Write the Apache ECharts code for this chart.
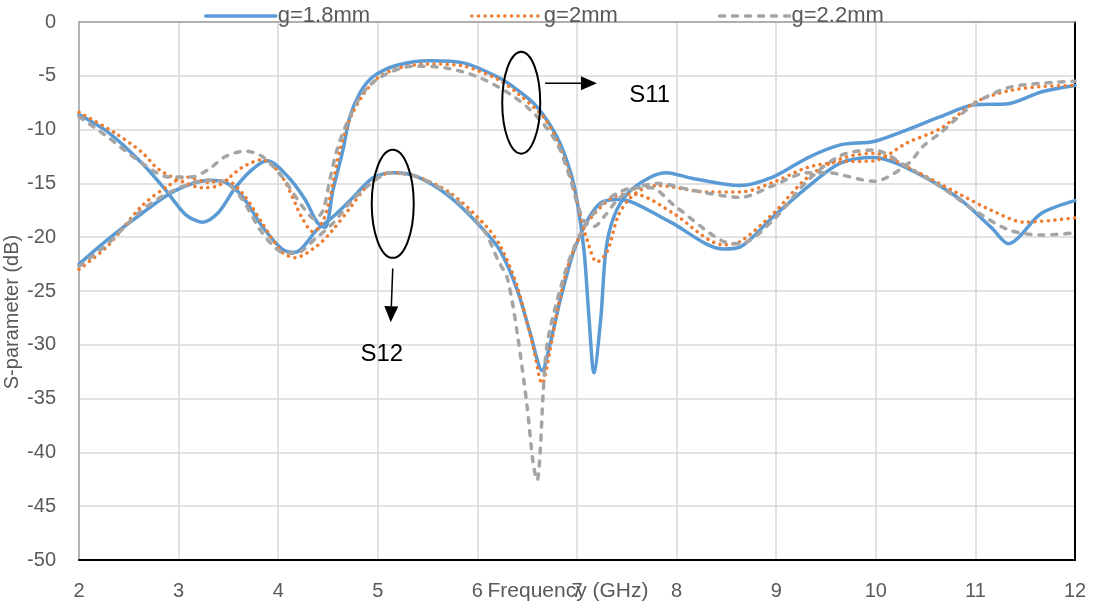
<!DOCTYPE html>
<html>
<head>
<meta charset="utf-8">
<script src="https://cdn.jsdelivr.net/npm/echarts@6/dist/echarts.min.js"></script>
<style>
    html, body { margin: 0; padding: 0; background: #fff; }
    #chart { width: 1097px; height: 608px; }
</style>
</head>
<body>
<div id="chart"></div>
<script>
// Series names (legend)
const gapNames = ['g=1.8mm', 'g=2mm', 'g=2.2mm'];

// S11 curves, [GHz, dB]
const s11G18 = [[2, -8.6], [2.3, -10.3], [2.63, -13.1], [2.86, -15.5], [3.07, -17.9], [3.24, -18.6], [3.4, -17.7], [3.57, -15.4], [3.74, -13.7], [3.89, -12.9], [4.1, -14.4], [4.27, -16.5], [4.39, -18.6], [4.47, -19.1], [4.55, -15.6], [4.65, -11.9], [4.72, -8.8], [4.82, -6.6], [4.95, -5.1], [5.2, -4.0], [5.53, -3.6], [5.86, -3.8], [6.2, -5.1], [6.4, -6.3], [6.6, -7.9], [6.8, -10.7], [6.93, -13.8], [7.0, -16.6], [7.07, -21.2], [7.12, -27.4], [7.17, -32.6], [7.24, -27.4], [7.29, -21.2], [7.37, -18.1], [7.51, -15.9], [7.74, -14.4], [7.9, -14.0], [8.14, -14.5], [8.64, -15.2], [8.97, -14.4], [9.32, -12.6], [9.65, -11.4], [9.98, -11.1], [10.32, -10.0], [10.65, -8.8], [10.99, -7.7], [11.33, -7.6], [11.66, -6.5], [12, -5.9]];
const s11G20 = [[2, -8.4], [2.36, -10.3], [2.63, -12.1], [2.8, -13.7], [3.03, -14.8], [3.24, -15.4], [3.4, -15.2], [3.64, -13.5], [3.84, -12.8], [4.04, -14.4], [4.24, -18.2], [4.35, -19.5], [4.45, -18.5], [4.52, -16.3], [4.62, -11.9], [4.72, -9.0], [4.85, -6.8], [5.0, -5.2], [5.2, -4.3], [5.5, -3.9], [5.86, -4.1], [6.2, -5.3], [6.4, -6.6], [6.66, -8.8], [6.8, -11.0], [6.93, -14.2], [7.02, -17.5], [7.1, -20.2], [7.2, -22.3], [7.3, -21.4], [7.41, -18.1], [7.51, -16.6], [7.64, -15.6], [7.81, -15.2], [8.31, -15.8], [8.64, -15.8], [8.97, -14.9], [9.32, -13.5], [9.65, -13.0], [9.98, -12.9], [10.32, -11.2], [10.65, -9.9], [10.99, -7.5], [11.33, -6.4], [11.66, -6.0], [12, -5.9]];
const s11G22 = [[2, -8.8], [2.29, -10.7], [2.63, -13.1], [2.9, -14.4], [3.13, -14.4], [3.3, -13.7], [3.47, -12.5], [3.67, -12.0], [3.84, -12.5], [4.04, -14.4], [4.24, -17.1], [4.37, -18.3], [4.45, -17.5], [4.52, -14.6], [4.59, -11.9], [4.69, -9.4], [4.85, -6.6], [5.03, -5.1], [5.36, -4.1], [5.7, -4.3], [6.03, -5.2], [6.36, -6.9], [6.6, -8.8], [6.8, -11.3], [6.93, -14.5], [7.0, -16.8], [7.08, -18.6], [7.17, -19.0], [7.28, -18.0], [7.41, -16.5], [7.57, -15.5], [7.81, -15.0], [8.14, -15.6], [8.64, -16.3], [8.97, -15.2], [9.32, -14.0], [9.5, -14.0], [9.98, -14.8], [10.32, -13.2], [10.48, -11.5], [10.65, -10.3], [10.99, -7.6], [11.33, -6.1], [11.66, -5.7], [12, -5.5]];

// S12 curves, [GHz, dB]
const s12G18 = [[2, -22.5], [2.29, -20.2], [2.63, -17.8], [2.96, -15.7], [3.3, -14.7], [3.47, -14.9], [3.64, -16.2], [3.84, -19.0], [4.04, -21.1], [4.17, -21.4], [4.39, -19.3], [4.55, -18.1], [4.72, -16.6], [4.95, -14.5], [5.16, -14.0], [5.4, -14.4], [5.73, -16.3], [6.06, -19.3], [6.23, -21.3], [6.4, -24.9], [6.53, -28.9], [6.65, -32.4], [6.73, -29.9], [6.83, -25.9], [6.97, -21.2], [7.1, -18.5], [7.24, -16.8], [7.41, -16.5], [7.57, -16.8], [7.94, -18.6], [8.47, -21.1], [8.64, -20.9], [8.97, -18.1], [9.32, -15.3], [9.65, -13.1], [9.98, -12.6], [10.32, -13.6], [10.82, -16.3], [11.16, -19.1], [11.33, -20.6], [11.66, -17.8], [12, -16.6]];
const s12G20 = [[2, -23.0], [2.29, -20.8], [2.63, -17.1], [2.9, -15.2], [3.07, -14.4], [3.3, -14.9], [3.47, -14.7], [3.64, -15.9], [3.84, -18.7], [4.04, -21.4], [4.17, -21.9], [4.39, -20.8], [4.55, -19.3], [4.72, -17.3], [4.89, -15.3], [5.13, -14.0], [5.4, -14.4], [5.73, -15.9], [6.06, -18.7], [6.23, -20.8], [6.4, -24.6], [6.56, -30.2], [6.65, -33.6], [6.73, -30.5], [6.81, -26.5], [6.93, -22.1], [7.1, -18.7], [7.34, -16.4], [7.5, -16.0], [7.64, -16.1], [7.97, -17.8], [8.47, -20.7], [8.64, -20.4], [8.97, -17.8], [9.32, -14.4], [9.65, -12.7], [9.98, -12.2], [10.32, -13.5], [10.82, -15.9], [11.16, -17.5], [11.49, -18.6], [12, -18.2]];
const s12G22 = [[2, -22.7], [2.29, -20.6], [2.63, -17.5], [2.96, -15.6], [3.3, -14.7], [3.47, -14.9], [3.64, -16.5], [3.84, -19.6], [4.04, -21.4], [4.17, -21.5], [4.39, -20.0], [4.55, -18.7], [4.72, -16.8], [4.89, -15.3], [5.13, -14.0], [5.4, -14.4], [5.73, -16.1], [6.06, -19.3], [6.21, -22.2], [6.3, -23.8], [6.4, -28.9], [6.5, -35.8], [6.56, -41.0], [6.6, -42.6], [6.63, -40.0], [6.66, -34.5], [6.7, -29.9], [6.8, -25.9], [6.93, -21.9], [7.07, -19.1], [7.24, -17.0], [7.41, -15.9], [7.57, -15.4], [7.74, -15.4], [7.97, -17.0], [8.47, -20.4], [8.64, -20.6], [8.97, -18.4], [9.32, -14.7], [9.65, -12.4], [9.98, -11.9], [10.32, -13.5], [10.65, -15.3], [10.99, -17.5], [11.33, -19.3], [11.66, -19.8], [12, -19.6]];

const FONT = '"Liberation Sans", Arial, sans-serif';
const TEXT_COLOR = '#595959';

// Line styles per gap value
const lineStyles = [
    {color: '#5B9BD5', width: 3.5, type: 'solid', cap: 'round'},
    {color: '#ED7D31', width: 3.5, type: [0.1, 6.5], cap: 'round'},
    {color: '#A5A5A5', width: 3.5, type: [5, 8], cap: 'round'}
];

// One series for each curve, S11 and S12 share the legend name
const makeSeries = (name, data, style) => ({
    name: name,
    type: 'line',
    data: data,
    smooth: 0.3,
    symbol: 'none',
    lineStyle: style,
    itemStyle: {color: style.color}
});

const series = [
    makeSeries(gapNames[0], s11G18, lineStyles[0]),
    makeSeries(gapNames[0], s12G18, lineStyles[0]),
    makeSeries(gapNames[1], s11G20, lineStyles[1]),
    makeSeries(gapNames[1], s12G20, lineStyles[1]),
    makeSeries(gapNames[2], s11G22, lineStyles[2]),
    makeSeries(gapNames[2], s12G22, lineStyles[2])
];

const chart = echarts.init(document.getElementById('chart'));

chart.setOption({
    animation: false,
    textStyle: {fontFamily: FONT},
    grid: {left: 79, right: 22, top: 22, bottom: 48, containLabel: false, outerBoundsMode: 'none'},
    legend: {
        data: gapNames,
        top: 0,
        left: 199,
        itemWidth: 70,
        itemHeight: 14,
        itemGap: 100,
        itemStyle: {opacity: 0},
        lineStyle: {width: 3.5},
        textStyle: {color: TEXT_COLOR, fontSize: 22, fontFamily: FONT, padding: [0, 0, 0, -3]}
    },
    xAxis: [
        {
            type: 'value', min: 2, max: 12, interval: 1,
            name: 'Frequency (GHz)', nameLocation: 'middle', nameGap: 21,
            nameMoveOverlap: false,
            nameTextStyle: {color: TEXT_COLOR, fontSize: 21, fontFamily: FONT, padding: [0, 18, 0, 0]},
            axisLine: {show: true, onZero: false, lineStyle: {color: '#000', width: 2}},
            axisTick: {show: false},
            axisLabel: {color: TEXT_COLOR, fontSize: 20, margin: 21},
            splitLine: {show: true, lineStyle: {color: '#D9D9D9', width: 1.5}}
        },
        {
            type: 'value', min: 2, max: 12, position: 'top',
            axisLine: {show: true, onZero: false, lineStyle: {color: '#9E9E9E', width: 1.5}},
            axisTick: {show: false}, axisLabel: {show: false}, splitLine: {show: false}
        }
    ],
    yAxis: [
        {
            type: 'value', min: -50, max: 0, interval: 5,
            axisLine: {show: true, onZero: false, lineStyle: {color: '#A6A6A6', width: 1.5}},
            axisTick: {show: false},
            axisLabel: {color: TEXT_COLOR, fontSize: 20, margin: 23},
            splitLine: {show: true, lineStyle: {color: '#D9D9D9', width: 1.5}}
        },
        {
            type: 'value', min: -50, max: 0, position: 'right',
            axisLine: {show: true, onZero: false, lineStyle: {color: '#000', width: 2}},
            axisTick: {show: false}, axisLabel: {show: false}, splitLine: {show: false}
        }
    ],
    series: series
});

// Annotations (ellipses, arrows, labels) placed from data coordinates
const px = (x, y) => chart.convertToPixel({gridIndex: 0}, [x, y]);

const ellipse = (c, rx, ry) => ({
    type: 'ellipse',
    shape: {cx: c[0], cy: c[1], rx: rx, ry: ry},
    style: {fill: 'none', stroke: '#000', lineWidth: 2},
    z: 10
});

const arrow = (from, to) => {
    const ang = Math.atan2(to[1] - from[1], to[0] - from[0]);
    const len = 16, half = 7;
    const bx = to[0] - len * Math.cos(ang), by = to[1] - len * Math.sin(ang);
    const nx = -Math.sin(ang) * half, ny = Math.cos(ang) * half;
    return [
        {
            type: 'line',
            shape: {x1: from[0], y1: from[1], x2: bx, y2: by},
            style: {stroke: '#000', lineWidth: 1.5},
            z: 10
        },
        {
            type: 'polygon',
            shape: {points: [[to[0], to[1]], [bx + nx, by + ny], [bx - nx, by - ny]]},
            style: {fill: '#000'},
            z: 10
        }
    ];
};

const label = (p, text) => ({
    type: 'text',
    x: p[0], y: p[1],
    style: {text: text, fill: '#000', font: '24px ' + FONT, align: 'center', verticalAlign: 'middle'},
    z: 10
});

chart.setOption({
    graphic: [
        ellipse(px(6.44, -7.5), 19, 51),
        ...arrow(px(6.68, -5.7), px(7.2, -5.7)),
        label(px(7.73, -6.8), 'S11'),
        ellipse(px(5.15, -16.9), 21, 54),
        ...arrow(px(5.15, -22.9), px(5.13, -27.9)),
        label(px(5.04, -30.9), 'S12'),
        {
            type: 'text',
            x: 12, y: 312,
            rotation: Math.PI / 2,
            style: {text: 'S-parameter (dB)', fill: TEXT_COLOR, font: '20px ' + FONT, align: 'center', verticalAlign: 'middle'}
        }
    ]
});
</script>
</body>
</html>
